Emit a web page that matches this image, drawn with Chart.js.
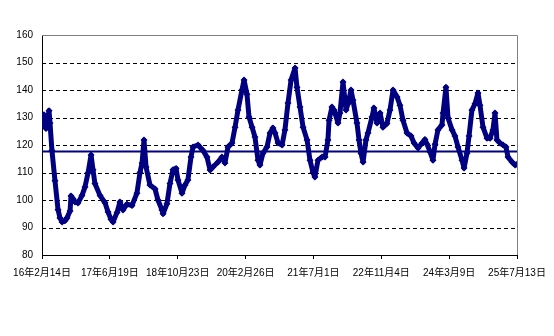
<!DOCTYPE html>
<html>
<head>
<meta charset="utf-8">
<script src="https://cdn.jsdelivr.net/npm/chart.js@4"></script>
<style>
  html, body { margin: 0; padding: 0; background: #fff; }
  #wrap { width: 554px; height: 336px; }
</style>
</head>
<body>
<div id="wrap"><canvas id="chart"></canvas></div>
<script>
// days since 2016-02-14
const dayOffsets = [0, 14, 29, 43, 51, 58, 72, 94, 116, 130, 145, 166, 181, 203, 210, 224, 239, 260, 289, 311,
    333, 355, 369, 383, 420, 456, 478, 499, 514, 543, 564, 586, 615, 651, 687, 709, 724, 738, 753, 781,
    818, 839, 868, 876, 904, 926, 948, 970, 984, 1013, 1035, 1056, 1078, 1093, 1129, 1165, 1194, 1216, 1237, 1274,
    1302, 1324, 1346, 1375, 1397, 1418, 1447, 1462, 1483, 1498, 1520, 1541, 1563, 1577, 1599, 1628, 1650, 1671, 1686, 1708,
    1737, 1758, 1780, 1802, 1831, 1845, 1867, 1889, 1918, 1939, 1961, 1975, 1997, 2026, 2048, 2069, 2077, 2098, 2113, 2142,
    2156, 2178, 2200, 2214, 2236, 2250, 2279, 2294, 2308, 2323, 2344, 2359, 2388, 2402, 2424, 2446, 2467, 2496, 2518, 2540,
    2569, 2590, 2612, 2641, 2670, 2692, 2721, 2750, 2771, 2786, 2808, 2829, 2844, 2865, 2894, 2902, 2923, 2938, 2967, 2988,
    3010, 3039, 3054, 3075, 3090, 3111, 3133, 3155, 3169, 3191, 3220, 3242, 3263, 3278, 3292, 3314, 3336, 3357, 3372, 3401,
    3423, 3437];

const indexValues = [127, 131, 126, 130, 132.5, 128, 118, 107, 96.5, 93.5, 92, 92.5, 93.5, 96, 101.5, 100.5, 99.3, 98.9, 101.6, 104.7,
    109.8, 116.4, 111, 106, 101.6, 99, 95.6, 93, 92, 95.5, 99.3, 96.4, 98.5, 98, 102.5, 110, 113.5, 121.8, 112, 105.5,
    104, 100, 96.4, 95, 98.6, 106, 111, 111.5, 107.3, 102.5, 105.5, 107.3, 115.6, 119.3, 120, 118, 115.6, 110.9, 112, 113.8,
    115.6, 113.5, 119.3, 120.7, 126.5, 132.7, 140, 143.6, 138.5, 130.2, 126.5, 122.9, 114.5, 112.7, 117, 119.3, 124.4, 126.2, 124.4, 120.7,
    120, 125.5, 135.3, 143.6, 148, 141, 133.8, 126.5, 121.8, 114.5, 110, 108.4, 114.5, 115.6, 115.6, 121.8, 129, 133.8, 132.7, 128,
    131.6, 142.9, 132.7, 135, 140, 136.4, 128, 121.8, 117, 113.8, 121.8, 124.4, 130.2, 133.5, 128, 131.6, 126.5, 127.8, 132.7, 140,
    137.5, 134.5, 129, 124.4, 123.3, 120.7, 118.9, 120.7, 122, 120.3, 117.5, 114.5, 120.3, 125.5, 127.3, 131.6, 141, 129.8, 125.5, 123.3,
    119.3, 114.5, 111.6, 117, 123.3, 132.7, 135, 138.9, 134.5, 126.5, 122.5, 122.5, 125.5, 131.6, 121.8, 120.7, 120, 119.3, 115.6, 113.8,
    112.7, 113];

const averageLevel = 117.6;

const tickDays = [0, 491, 982, 1473, 1964, 2455, 2946, 3437];
const tickLabels = ['16年2月14日', '17年6月19日', '18年10月23日', '20年2月26日', '21年7月1日', '22年11月4日', '24年3月9日', '25年7月13日'];

const yMin = 80;
const yMax = 160;
const yStep = 10;

const lineColor = '#000080';
const fontFamily = '"Liberation Sans", Arial, "Noto Sans CJK SC", sans-serif';

// dashed grid lines + grey top/right frame, drawn through the y scale
const frame = {
    id: 'frame',
    beforeDatasetsDraw(chart) {
        const ctx = chart.ctx;
        const area = chart.chartArea;
        const y = chart.scales.y;
        ctx.save();
        ctx.strokeStyle = '#000';
        ctx.lineWidth = 1;
        ctx.setLineDash([4, 3]);
        for (let v = yMin + yStep; v < yMax; v += yStep) {
            const py = Math.round(y.getPixelForValue(v)) + 0.5;
            ctx.beginPath();
            ctx.moveTo(area.left, py);
            ctx.lineTo(area.right, py);
            ctx.stroke();
        }
        ctx.setLineDash([]);
        ctx.strokeStyle = '#808080';
        ctx.beginPath();
        ctx.moveTo(area.left, Math.round(area.top) + 0.5);
        ctx.lineTo(Math.round(area.right) + 0.5, Math.round(area.top) + 0.5);
        ctx.lineTo(Math.round(area.right) + 0.5, area.bottom);
        ctx.stroke();
        ctx.restore();
    }
};

const seriesPoints = dayOffsets.map((d, i) => ({ x: d, y: indexValues[i] }));
const averagePoints = [{ x: tickDays[0], y: averageLevel }, { x: tickDays[tickDays.length - 1], y: averageLevel }];

const ctx = document.getElementById('chart').getContext('2d');
new Chart(ctx, {
    type: 'line',
    data: {
        datasets: [
            { data: averagePoints, borderColor: lineColor, borderWidth: 2, pointRadius: 0, fill: false },
            {
                data: seriesPoints, borderColor: lineColor, borderWidth: 5, tension: 0, fill: false,
                borderJoinStyle: 'round', borderCapStyle: 'round',
                pointStyle: 'rectRot', pointRadius: 3.5, pointBorderWidth: 0,
                pointBackgroundColor: lineColor, pointBorderColor: lineColor
            }
        ]
    },
    options: {
        responsive: true,
        maintainAspectRatio: false,
        animation: false,
        layout: { padding: { left: 0, right: 37, top: 35, bottom: 0 } },
        plugins: { legend: { display: false }, tooltip: { enabled: false } },
        scales: {
            x: {
                type: 'linear',
                min: tickDays[0],
                max: tickDays[tickDays.length - 1],
                afterBuildTicks: (scale) => { scale.ticks = tickDays.map(v => ({ value: v })); },
                afterFit: (scale) => { scale.height = 81; },
                grid: { drawOnChartArea: false, drawTicks: true, tickLength: 4, tickColor: '#000' },
                border: { display: true, color: '#000', width: 1 },
                ticks: {
                    autoSkip: false,
                    maxRotation: 0,
                    padding: 8,
                    color: '#000',
                    font: { family: fontFamily, size: 10 },
                    callback: (value) => {
                        const i = tickDays.indexOf(value);
                        return i >= 0 ? tickLabels[i] : '';
                    }
                }
            },
            y: {
                min: yMin,
                max: yMax,
                afterFit: (scale) => { scale.width = 42; },
                grid: { drawOnChartArea: false, drawTicks: false },
                border: { display: true, color: '#000', width: 1 },
                ticks: {
                    stepSize: yStep,
                    padding: 9,
                    color: '#000',
                    font: { family: fontFamily, size: 10 }
                }
            }
        }
    },
    plugins: [frame]
});
</script>
</body>
</html>
